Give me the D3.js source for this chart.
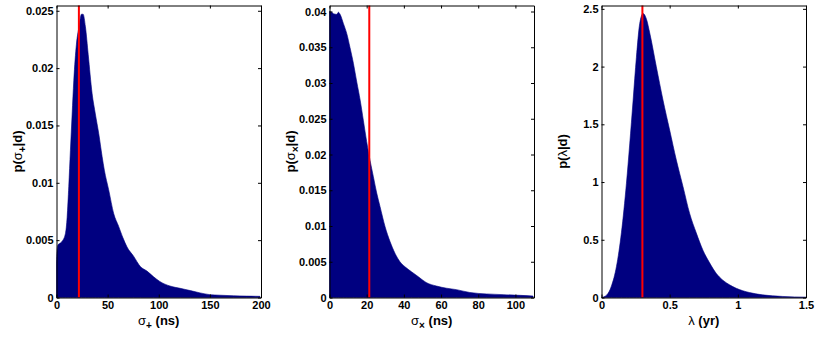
<!DOCTYPE html>
<html><head><meta charset="utf-8">
<script src="https://cdn.jsdelivr.net/npm/d3@7"></script>
<style>
html,body{margin:0;padding:0;background:#fff;}
svg{display:block;font-family:"Liberation Sans",Arial,Helvetica,sans-serif;font-weight:bold;}
</style></head>
<body>
<svg id="c" width="817" height="337"></svg>
<script>
// Panel 1: sigma_+ (ns)
const xPlus = [0,0.5,1.5,3,5.5,8.8,10.4,12,13.6,15.3,16.9,19.5,22,24.4,26,28.3,31,34.8,38,41.3,44.6,46.8,51,56,60.8,65,69,75.4,82,88.5,95,101,111,121,131,140.5,150,160,173,186,199];
const pPlus = [0.0030,0.0040,0.0046,0.0047,0.0049,0.0056,0.0070,0.0097,0.0128,0.0160,0.0189,0.0221,0.0236,0.0247,0.0247,0.0236,0.0212,0.0178,0.0160,0.0143,0.0123,0.0111,0.0094,0.0073,0.0062,0.0052,0.0044,0.0036,0.0027,0.0023,0.0018,0.0014,0.0010,0.0008,0.0006,0.0004,0.00025,0.0002,0.00015,0.00012,0.0001];
const markPlus = 21.9;
const xTicksPlus = [0,50,100,150,200];
const yTicksPlus = [0,0.005,0.01,0.015,0.02,0.025];

// Panel 2: sigma_x (ns)
const xCross = [0,1.25,2.1,3.9,4.8,5.7,7.5,9.3,11,12.9,14.7,16.5,18.2,20,21.8,23.6,25.4,27.2,29.9,32.6,35.2,37.9,40.6,44.1,47.8,52,57.6,63,68.3,75.5,84.4,93.4,102.7,109.5];
const pCross = [0.0400,0.0399,0.0397,0.0396,0.0399,0.0396,0.0383,0.0369,0.0350,0.0327,0.0301,0.0276,0.0248,0.0218,0.0192,0.0169,0.0146,0.0127,0.0099,0.0078,0.0062,0.0050,0.0043,0.0036,0.0029,0.0021,0.0016,0.0013,0.0011,0.0007,0.0005,0.0004,0.0003,0.0002];
const markCross = 21.4;
const xTicksCross = [0,20,40,60,80,100];
const yTicksCross = [0,0.005,0.01,0.015,0.02,0.025,0.03,0.035,0.04];

// Panel 3: lambda (yr)
const xLam = [0,0.037,0.073,0.11,0.146,0.183,0.207,0.232,0.256,0.28,0.305,0.33,0.354,0.402,0.451,0.5,0.549,0.598,0.646,0.695,0.744,0.793,0.841,0.89,0.939,0.988,1.085,1.18,1.33,1.5];
const pLam = [0,0.02,0.10,0.27,0.56,0.99,1.33,1.71,2.08,2.37,2.46,2.41,2.29,2.00,1.71,1.45,1.19,0.96,0.73,0.56,0.41,0.30,0.21,0.15,0.11,0.08,0.043,0.023,0.009,0.003];
const markLam = 0.30;
const xTicksLam = [0,0.5,1,1.5];
const yTicksLam = [0,0.5,1,1.5,2,2.5];

const panels = [
  {x:xPlus, y:pPlus, mark:markPlus, xd:[0,200], yd:[0,0.02546], xt:xTicksPlus, yt:yTicksPlus, left:56.5, sym:"σ", sub:"+", unit:" (ns)"},
  {x:xCross, y:pCross, mark:markCross, xd:[0,110], yd:[0,0.04084], xt:xTicksCross, yt:yTicksCross, left:329.5, sym:"σ", sub:"×", unit:" (ns)"},
  {x:xLam, y:pLam, mark:markLam, xd:[0,1.5], yd:[0,2.529], xt:xTicksLam, yt:yTicksLam, left:601.5, sym:"λ", sub:null, unit:" (yr)"}
];

const svg = d3.select("#c");
const plotTop = 5.5, plotBottom = 297.5, W = 204.5;
const fmt = d => String(d);

panels.forEach(P => {
  const xs = d3.scaleLinear().domain(P.xd).range([P.left, P.left + W]);
  const ys = d3.scaleLinear().domain(P.yd).range([plotBottom, plotTop]);
  const g = svg.append("g");
  const data = P.x.map((v,i) => [v, P.y[i]]);
  const area = d3.area().x(d => xs(d[0])).y0(ys(0)).y1(d => ys(d[1])).curve(d3.curveMonotoneX);
  g.append("path").datum(data).attr("d", area).attr("fill", "#000080").attr("stroke","#000080").attr("stroke-width",0.6);
  g.append("line").attr("x1", xs(P.mark)).attr("x2", xs(P.mark)).attr("y1", plotTop).attr("y2", plotBottom)
    .attr("stroke", "#ff0000").attr("stroke-width", 2);

  const ax = (gen, tr) => {
    const a = g.append("g").attr("transform", tr).call(gen);
    a.select(".domain").attr("stroke", "#000").attr("stroke-width", 1);
    a.selectAll(".tick line").attr("stroke", "#000").attr("stroke-width", 1);
    a.selectAll("text").attr("font-size", 11).attr("font-weight", "bold").attr("fill", "#000")
      .attr("font-family", '"Liberation Sans",Arial,sans-serif');
    return a;
  };
  ax(d3.axisBottom(xs).tickValues(P.xt).tickFormat(fmt).tickSizeInner(-3).tickSizeOuter(0).tickPadding(4), `translate(0,${plotBottom})`);
  ax(d3.axisTop(xs).tickValues(P.xt).tickFormat("").tickSizeInner(-3).tickSizeOuter(0), `translate(0,${plotTop})`);
  ax(d3.axisLeft(ys).tickValues(P.yt).tickFormat(fmt).tickSizeInner(-3).tickSizeOuter(0).tickPadding(3), `translate(${P.left},0)`);
  ax(d3.axisRight(ys).tickValues(P.yt).tickFormat("").tickSizeInner(-3).tickSizeOuter(0), `translate(${P.left + W},0)`);

  // x label
  const cx = P.left + W / 2;
  const xl = g.append("text").attr("x", cx).attr("y", 325).attr("text-anchor", "middle")
    .attr("font-size", 13).attr("fill", "#000");
  xl.append("tspan").attr("font-weight","normal").text(P.sym);
  if (P.sub) xl.append("tspan").attr("dy", 4).attr("font-size", 10).text(P.sub);
  xl.append("tspan").attr("dy", P.sub ? -4 : 0).text(P.unit);

  // y label
  const yl = g.append("text").attr("transform", `translate(${P.left - 35},${(plotTop + plotBottom) / 2}) rotate(-90)`)
    .attr("text-anchor", "middle").attr("font-size", 13).attr("fill", "#000");
  yl.append("tspan").text("p(");
  yl.append("tspan").attr("font-weight","normal").text(P.sym);
  if (P.sub) yl.append("tspan").attr("dy", 4).attr("font-size", 10).text(P.sub);
  yl.append("tspan").attr("dy", P.sub ? -4 : 0).text("|d)");
});
</script>
</body></html>
